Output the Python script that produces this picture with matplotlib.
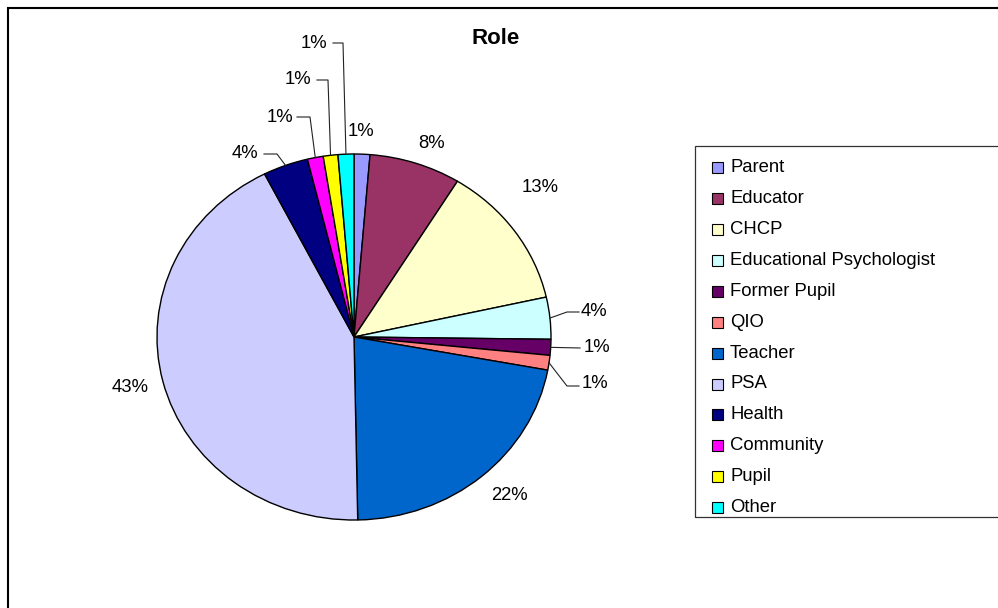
import matplotlib.pyplot as plt
from matplotlib.patches import Rectangle
import numpy as np

plt.rcParams['font.family'] = ['Liberation Sans', 'DejaVu Sans']

# data
roles = ['Parent', 'Educator', 'CHCP', 'Educational Psychologist', 'Former Pupil',
         'QIO', 'Teacher', 'PSA', 'Health', 'Community', 'Pupil', 'Other']
shares = [1.3, 7.5, 12.7, 3.7, 1.4, 1.3, 21.8, 42.8, 3.7, 1.3, 1.2, 1.3]
pct_labels = ['1%', '8%', '13%', '4%', '1%', '1%', '22%', '43%', '4%', '1%', '1%', '1%']
colors = ['#9999FF', '#993366', '#FFFFCC', '#CCFFFF', '#660066', '#FF8080',
          '#0066CC', '#CCCCFF', '#000080', '#FF00FF', '#FFFF00', '#00FFFF']

W, H = 998, 608
cx, cy, rx, ry = 354, 337, 197, 183   # pie centre / radii in pixels


def d(px, py):
    # pixel position -> data coords of the full-figure axes
    return (px - cx) / rx, (cy - py) / ry


fig = plt.figure(figsize=(W / 100, H / 100), dpi=100)
ax = fig.add_axes([0, 0, 1, 1])
wedges, _ = ax.pie(shares, colors=colors, startangle=90, counterclock=False,
                   radius=1, wedgeprops=dict(edgecolor='black', linewidth=1))
ax.set_aspect('auto')
ax.set_xlim(d(0, 0)[0], d(W, 0)[0])
ax.set_ylim(d(0, H)[1], d(0, 0)[1])
ax.axis('off')

# label positions (pixels); entries with an elbow get a leader line
label_pos = {
    0: (361, 132), 1: (432, 143), 2: (540, 188), 3: (594, 311),
    4: (597, 348), 5: (595, 384), 6: (509, 496), 7: (130, 388),
    8: (245, 153), 9: (280, 117), 10: (298, 80), 11: (314, 43),
}
elbows = {
    3: [(567, 312), (579, 312)],
    4: [(580, 348)],
    5: [(567, 386), (579, 386)],
    8: [(277, 154), (264, 154)],
    9: [(310, 117), (297, 117)],
    10: [(328, 80), (317, 80)],
    11: [(343, 43), (333, 43)],
}

for i, w in enumerate(wedges):
    x, y = d(*label_pos[i])
    ax.text(x, y, pct_labels[i], ha='center', va='center', fontsize=13.3)
    if i in elbows:
        mid = np.deg2rad((w.theta1 + w.theta2) / 2)
        pts = [(np.cos(mid), np.sin(mid))] + [d(*p) for p in elbows[i]]
        ax.plot([p[0] for p in pts], [p[1] for p in pts], color='#222222', lw=0.8)

# title
fig.text(496 / W, 1 - 38 / H, 'Role', ha='center', va='center',
         fontsize=16, fontweight='bold')

# outer chart border (runs off the right and bottom edges)
fig.patches.append(Rectangle((8 / W, -0.1), 1.2, 1 - 8 / H + 0.1,
                             transform=fig.transFigure, fill=False,
                             edgecolor='black', lw=1.5, clip_on=False))

# legend drawn by hand, box runs off the right edge and clips the last entry
box = Rectangle((695 / W, 1 - 517 / H), 0.5, (517 - 146) / H,
                transform=fig.transFigure, fill=False,
                edgecolor='#333333', lw=0.9, clip_on=False)
fig.patches.append(box)
for i, role in enumerate(roles):
    yy = 167.7 + i * 30.9
    sq = Rectangle((712 / W, 1 - (yy + 5.5) / H), 11 / W, 11 / H,
                   transform=fig.transFigure, facecolor=colors[i],
                   edgecolor='black', lw=0.8)
    fig.patches.append(sq)
    sq.set_clip_path(box)
    t = fig.text(730 / W, 1 - yy / H, role, ha='left', va='center', fontsize=13.3)
    t.set_clip_path(box)

fig.savefig('out.png', dpi=100)
